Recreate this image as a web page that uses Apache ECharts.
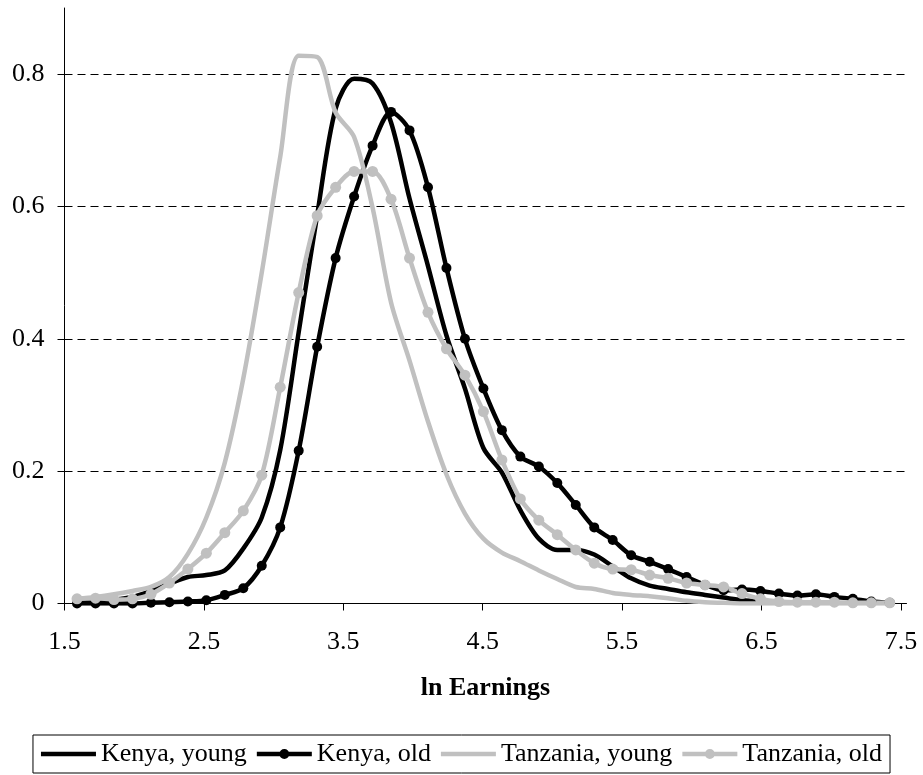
<!DOCTYPE html>
<html>
<head>
<meta charset="utf-8">
<title>ln Earnings</title>
<script src="https://cdn.jsdelivr.net/npm/echarts@6/dist/echarts.min.js"></script>
<style>
  html, body { margin: 0; padding: 0; background: #fff; }
  #chart { width: 923px; height: 775px; }
</style>
</head>
<body>
<div id="chart"></div>
<script>
// ln earnings points (same grid for all four curves)
const lnEarnings = [
  1.59, 1.7225, 1.855, 1.9875, 2.12, 2.2525, 2.385, 2.5175, 2.65, 2.7825,
  2.915, 3.0475, 3.18, 3.3125, 3.445, 3.5775, 3.71, 3.8425, 3.975, 4.1075,
  4.24, 4.3725, 4.505, 4.6375, 4.77, 4.9025, 5.035, 5.1675, 5.30, 5.4325,
  5.565, 5.6975, 5.83, 5.9625, 6.095, 6.2275, 6.36, 6.4925, 6.625, 6.7575,
  6.89, 7.0225, 7.155, 7.2875, 7.42
];

const kenyaYoung = [
  0.002, 0.004, 0.006, 0.010, 0.019, 0.030, 0.040, 0.043, 0.050, 0.083,
  0.130, 0.232, 0.410, 0.587, 0.748, 0.793, 0.786, 0.727, 0.612, 0.510,
  0.405, 0.325, 0.235, 0.198, 0.141, 0.098, 0.081, 0.081, 0.074, 0.056,
  0.038, 0.027, 0.022, 0.017, 0.013, 0.009, 0.005, 0.003, null, null,
  null, null, null, null, null
];

const kenyaOld = [
  0.000, 0.000, 0.000, 0.000, 0.001, 0.002, 0.003, 0.005, 0.013, 0.023,
  0.057, 0.115, 0.231, 0.388, 0.522, 0.615, 0.692, 0.743, 0.715, 0.629,
  0.507, 0.400, 0.325, 0.262, 0.222, 0.207, 0.182, 0.149, 0.115, 0.096,
  0.073, 0.063, 0.052, 0.040, 0.028, 0.020, 0.021, 0.019, 0.015, 0.012,
  0.014, 0.010, 0.007, 0.003, 0.001
];

const tanzaniaYoung = [
  0.007, 0.010, 0.014, 0.019, 0.025, 0.040, 0.075, 0.130, 0.213, 0.340,
  0.500, 0.675, 0.828, 0.826, 0.742, 0.705, 0.598, 0.455, 0.367, 0.275,
  0.195, 0.136, 0.098, 0.077, 0.064, 0.050, 0.037, 0.025, 0.022, 0.016,
  0.013, 0.011, 0.008, 0.004, 0.002, 0.001, 0.000, 0.000, 0.000, 0.000,
  0.000, 0.000, 0.000, 0.000, 0.000
];

const tanzaniaOld = [
  0.007, 0.008, 0.006, 0.007, 0.014, 0.031, 0.052, 0.076, 0.107, 0.140,
  0.194, 0.327, 0.470, 0.586, 0.629, 0.653, 0.653, 0.611, 0.522, 0.440,
  0.385, 0.345, 0.290, 0.217, 0.158, 0.126, 0.104, 0.081, 0.061, 0.052,
  0.051, 0.043, 0.038, 0.031, 0.028, 0.025, 0.015, 0.007, 0.003, 0.002,
  0.002, 0.002, 0.001, 0.001, 0.001
];

const xTicks = [1.5, 2.5, 3.5, 4.5, 5.5, 6.5, 7.5];
const yTicks = [0, 0.2, 0.4, 0.6, 0.8];

const BLACK = "#000000";
const GREY = "#c0c0c0";
const FONT = "Liberation Serif";

// legend icons: plain thick line, and thick line with a dot in the middle
const ICON_LINE = "path://M0,4 L55,4 L55,8.5 L0,8.5 Z";
const ICON_DOT =
  "path://M0,4 L55,4 L55,8.5 L0,8.5 Z M22.5,6.25 a5,5 0 1,1 10,0 a5,5 0 1,1 -10,0 Z";

function pairs(ys) {
  return lnEarnings.map(function (x, i) {
    return [x, ys[i]];
  });
}

const chart = echarts.init(document.getElementById("chart"));

chart.setOption({
  animation: false,
  backgroundColor: "#ffffff",
  grid: {
    left: 64.5,
    right: 16.5,
    top: 8,
    bottom: 171.5,
  },
  legend: {
    bottom: 2,
    left: "center",
    padding: [6, 8],
    itemWidth: 55,
    itemHeight: 12,
    itemGap: 10,
    borderColor: BLACK,
    borderWidth: 1,
    textStyle: {
      fontFamily: FONT,
      fontSize: 26,
      color: BLACK,
    },
    data: [
      { name: "Kenya, young", icon: ICON_LINE },
      { name: "Kenya, old", icon: ICON_DOT },
      { name: "Tanzania, young", icon: ICON_LINE },
      { name: "Tanzania, old", icon: ICON_DOT },
    ],
  },
  xAxis: {
    type: "value",
    min: 1.5,
    max: 7.54,
    name: "ln Earnings",
    nameLocation: "middle",
    nameGap: 72,
    nameTextStyle: {
      fontFamily: FONT,
      fontSize: 26,
      fontWeight: "bold",
      color: BLACK,
    },
    axisLine: { lineStyle: { color: BLACK, width: 1 } },
    axisTick: {
      show: true,
      length: 7,
      customValues: xTicks,
      lineStyle: { color: BLACK },
    },
    axisLabel: {
      customValues: xTicks,
      margin: 26,
      fontFamily: FONT,
      fontSize: 26,
      color: BLACK,
      formatter: function (v) {
        return v.toFixed(1);
      },
    },
    splitLine: { show: false },
  },
  yAxis: {
    type: "value",
    min: 0,
    max: 0.9,
    axisLine: { show: true, lineStyle: { color: BLACK, width: 1 } },
    axisTick: {
      show: true,
      length: 7,
      customValues: yTicks,
      lineStyle: { color: BLACK },
    },
    axisLabel: {
      customValues: yTicks,
      margin: 20,
      fontFamily: FONT,
      fontSize: 26,
      color: BLACK,
    },
    splitLine: {
      show: true,
      lineStyle: { color: BLACK, width: 1, type: [8, 5] },
    },
  },
  series: [
    {
      name: "Kenya, young",
      type: "line",
      data: pairs(kenyaYoung),
      smooth: 0.3,
      symbol: "none",
      lineStyle: { color: BLACK, width: 4.5 },
      itemStyle: { color: BLACK },
    },
    {
      name: "Kenya, old",
      type: "line",
      data: pairs(kenyaOld),
      smooth: 0.3,
      symbol: "circle",
      symbolSize: 10,
      showSymbol: true,
      lineStyle: { color: BLACK, width: 4.5 },
      itemStyle: { color: BLACK },
    },
    {
      name: "Tanzania, young",
      type: "line",
      data: pairs(tanzaniaYoung),
      smooth: 0.3,
      symbol: "none",
      lineStyle: { color: GREY, width: 4.5 },
      itemStyle: { color: GREY },
    },
    {
      name: "Tanzania, old",
      type: "line",
      data: pairs(tanzaniaOld),
      smooth: 0.3,
      symbol: "circle",
      symbolSize: 11,
      showSymbol: true,
      lineStyle: { color: GREY, width: 4.5 },
      itemStyle: { color: GREY },
    },
  ],
});
</script>
</body>
</html>
